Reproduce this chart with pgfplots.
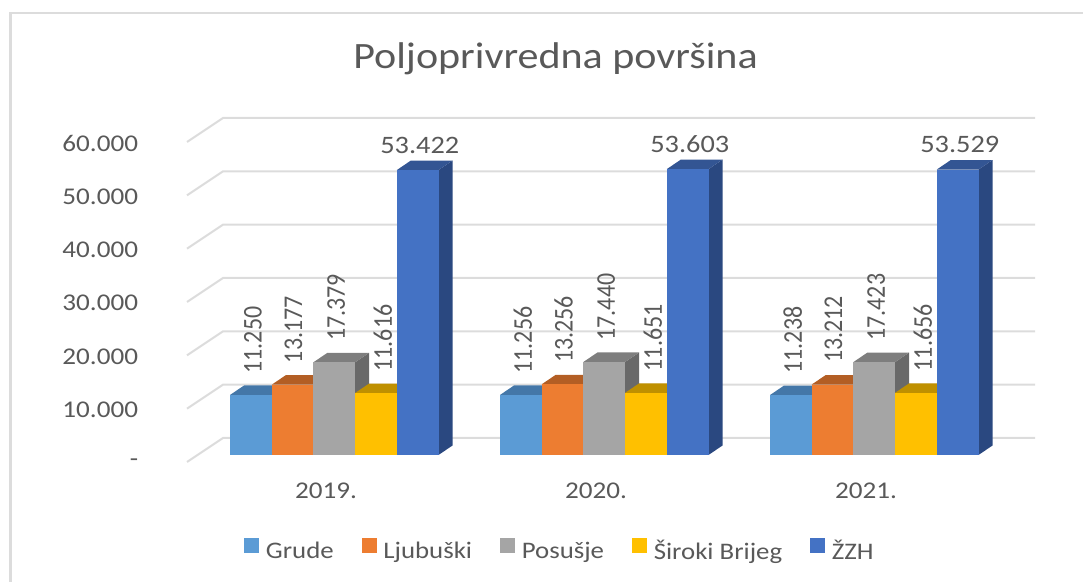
\documentclass[border=0pt]{standalone}
\usepackage{pgfplots}
\pgfplotsset{compat=1.18}
\usepackage{fontspec}
\setmainfont{Carlito}[FakeStretch=1.13]
\newfontfamily\rotfont{Carlito}[FakeStretch=0.885]
\definecolor{txt}{HTML}{595959}
\definecolor{gridc}{HTML}{DCDCDC}
\definecolor{aF}{HTML}{5B9BD5}\definecolor{aT}{HTML}{4477A8}\definecolor{aS}{HTML}{38618A}
\definecolor{bF}{HTML}{ED7D31}\definecolor{bT}{HTML}{B35E24}\definecolor{bS}{HTML}{8F4B1C}
\definecolor{cF}{HTML}{A5A5A5}\definecolor{cT}{HTML}{7E7E7E}\definecolor{cS}{HTML}{696969}
\definecolor{dF}{HTML}{FFC000}\definecolor{dT}{HTML}{BF9000}\definecolor{dS}{HTML}{997300}
\definecolor{eF}{HTML}{4472C4}\definecolor{eT}{HTML}{335593}\definecolor{eS}{HTML}{2A4880}
% #1 left x (px), #2 value, #3 colour prefix, #4 front-face option
\newcommand\tdbar[4]{%
  \pgfmathsetmacro\xb{#1+41.7}%
  \pgfmathsetmacro\xc{#1+55.7}%
  \pgfmathsetmacro\xd{#1+14}%
  \edef\vt{\the\numexpr#2+1781\relax}%
  \addplot[fill=#3S,draw=none,forget plot] coordinates {(\xb,0)(\xc,1781)(\xc,\vt)(\xb,#2)} --cycle;
  \addplot[fill=#3T,draw=none,forget plot] coordinates {(#1,#2)(\xb,#2)(\xc,\vt)(\xd,\vt)} --cycle;
  \addplot[fill=#3F,draw=none,#4] coordinates {(#1,0)(\xb,0)(\xb,#2)(#1,#2)} --cycle;
}
% rotated label: #1 bar left x, #2 value, #3 text, #4 x offset
\newcommand\vlab[4]{%
  \pgfmathsetmacro\lx{#1+20.85+#4}%
  \edef\ly{\the\numexpr#2+4000\relax}%
  \edef\tmp{\noexpand\node[rotate=90,anchor=west,inner sep=0pt,text=txt,font=\noexpand\rotfont\noexpand\fontsize{20.3pt}{22pt}\noexpand\selectfont] at (axis cs:\lx,\ly) {#3};}\tmp
}
\newcommand\hlab[3]{%
  \pgfmathsetmacro\lx{#1+23}%
  \edef\ly{\the\numexpr#2+4700\relax}%
  \edef\tmp{\noexpand\node[anchor=center,inner sep=0pt,text=txt,font=\noexpand\fontsize{18.8pt}{20pt}\noexpand\selectfont] at (axis cs:\lx,\ly) {#3};}\tmp
}
\newcommand\gline[1]{%
  \edef\va{\the\numexpr#1+3188\relax}%
  \edef\vb{\the\numexpr#1-1312\relax}%
  \addplot[gridc,line width=1.5pt,forget plot] coordinates {(187,\vb)(223,\va)(1035,\va)};
}
\begin{document}
\begin{tikzpicture}
\useasboundingbox (0,0) rectangle (812.25pt,436.5pt);
\begin{axis}[
  at={(140.25pt,90pt)},anchor=south west,
  width=636.75pt,height=258pt,scale only axis,
  xmin=187,xmax=1036,ymin=-1312.5,ymax=63187.5,
  clip=false,
  scaled ticks=false,
  axis line style={draw=none},
  tick style={draw=none},
  major tick length=0pt,
  xtick={326,596,866},xticklabels={2019.,2020.,2021.},
  ytick={-1312.5,8687.5,18687.5,28687.5,38687.5,48687.5,58687.5},
  yticklabels={-,10.000,20.000,30.000,40.000,50.000,60.000},
  tick label style={text=txt,font=\fontsize{18pt}{20pt}\selectfont,inner sep=0pt},
  yticklabel style={anchor=east,xshift=-36.5pt,yshift=-0.75pt},
  xticklabel style={anchor=center,yshift=-21.75pt},
  legend columns=5,
  legend style={at={(0.0671,-0.2558)},anchor=west,draw=none,fill=none,inner sep=0pt,
    font=\fontsize{17.8pt}{20pt}\selectfont,text=txt,
    nodes={inner sep=0pt},
    /tikz/every odd column/.style={column sep=5pt},
    /tikz/every even column/.style={column sep=21pt}},
  legend image code/.code={\fill[#1] (0pt,-1.5pt) rectangle (11.25pt,9.75pt);},
]
\addplot[gridc,line width=2pt,forget plot] coordinates {(10.7,-23812)(10.7,82880)(1083,82880)};
\gline{0}\gline{10000}\gline{20000}\gline{30000}\gline{40000}\gline{50000}\gline{60000}
% 2019.
\tdbar{230}{11250}{a}{}\addlegendentry{Grude}
\tdbar{271.7}{13177}{b}{}\addlegendentry{Ljubuški}
\tdbar{313.4}{17379}{c}{}\addlegendentry{Posušje}
\tdbar{355.1}{11616}{d}{}\addlegendentry{Široki Brijeg}
\tdbar{396.8}{53422}{e}{}\addlegendentry{ŽZH}
% 2020.
\tdbar{500}{11256}{a}{forget plot}
\tdbar{541.7}{13256}{b}{forget plot}
\tdbar{583.4}{17440}{c}{forget plot}
\tdbar{625.1}{11651}{d}{forget plot}
\tdbar{666.8}{53603}{e}{forget plot}
% 2021.
\tdbar{770}{11238}{a}{forget plot}
\tdbar{811.7}{13212}{b}{forget plot}
\tdbar{853.4}{17423}{c}{forget plot}
\tdbar{895.1}{11656}{d}{forget plot}
\tdbar{936.8}{53529}{e}{forget plot}
\vlab{230}{11250}{11.250}{2}\vlab{271.7}{13177}{13.177}{1}\vlab{313.4}{17379}{17.379}{2}\vlab{355.1}{11616}{11.616}{7}
\hlab{396.8}{53422}{53.422}
\vlab{500}{11256}{11.256}{2}\vlab{541.7}{13256}{13.256}{1}\vlab{583.4}{17440}{17.440}{2}\vlab{625.1}{11651}{11.651}{7}
\hlab{666.8}{53603}{53.603}
\vlab{770}{11238}{11.238}{2}\vlab{811.7}{13212}{13.212}{1}\vlab{853.4}{17423}{17.423}{2}\vlab{895.1}{11656}{11.656}{7}
\hlab{936.8}{53529}{53.529}
\node[text=txt,font=\fontsize{27.9pt}{30pt}\selectfont,inner sep=0pt] at (axis cs:555.5,74300) {Poljoprivredna površina};
\end{axis}
\end{tikzpicture}
\end{document}
